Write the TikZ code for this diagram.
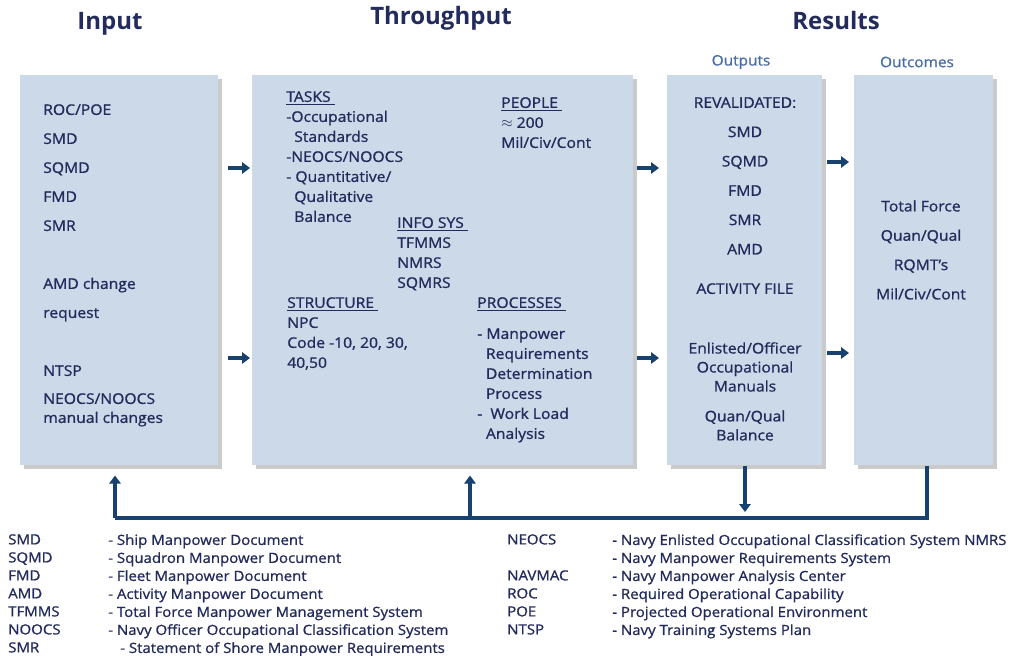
\documentclass[tikz,border=0pt]{standalone}
\usepackage{fontspec}
\setmainfont{Open Sans}[FakeStretch=1.07, FakeBold=1]
\newfontfamily\headfont{Open Sans}
\usetikzlibrary{arrows.meta,shadows}
\definecolor{navy}{HTML}{232B5C}
\definecolor{boxblue}{HTML}{CCD9E8}
\definecolor{flowblue}{HTML}{17416F}
\definecolor{subblue}{HTML}{4A6DA7}
\tikzset{
  panel/.style={fill=boxblue, draw=none, inner sep=0pt,
    drop shadow={shadow xshift=2.5pt, shadow yshift=-2.5pt, opacity=.35, fill=black!60}},
  txt/.style={text=navy, inner sep=0pt, align=left, font=\fontsize{11}{15}\selectfont},
  legend/.style={txt, font=\fontsize{10.5}{13.5}\selectfont},
  heading/.style={text=navy, inner sep=0pt, font=\headfont\fontsize{18}{22}\selectfont\bfseries},
  subhead/.style={text=subblue, inner sep=0pt, font=\fontsize{10.8}{12}\selectfont},
  flow/.style={draw=flowblue, line width=3pt, -{Triangle[length=6pt,width=8.5pt]}},
  bus/.style={draw=flowblue, line width=3pt, line join=miter}
}
\newcommand{\panel}[5]{\node[panel, anchor=north west, minimum width=#4*0.75pt, minimum height=#5*0.75pt] (#1) at (#2,#3) {};}
\newcommand{\push}[3]{\coordinate (#1) at (#2,#3); \draw[flow] (#1) -- ++(22,0);}

\begin{document}
\begin{tikzpicture}[x=0.75pt, y=-0.75pt]
    \useasboundingbox (0,0) rectangle (1013,656);
    % headings
    \node[heading, anchor=base] (hin) at (110,30) {Input};
    \node[heading, anchor=base] (hthru) at (441,25) {Throughput};
    \node[heading, anchor=base] (hres) at (836,30) {Results};
    \node[subhead] (hout) at (741,62) {Outputs};
    \node[subhead] (hoc) at (917,62) {Outcomes};
    % panels
    \panel{in}{20}{75}{198}{390}    \panel{tp}{252}{75}{381}{390}
    \panel{out}{667}{75}{155}{390}  \panel{oc}{854}{75}{139}{390}
    % input
    \node[txt, anchor=north west, font=\fontsize{11}{21.75}\selectfont] (inlist) at (43,104)
      {ROC/POE\\SMD\\SQMD\\FMD\\SMR\\[21.75pt]AMD change\\request\\[21.75pt]NTSP};
    \node[txt, anchor=north west, font=\fontsize{11}{14.25}\selectfont] (inman) at (43,393)
      {NEOCS/NOOCS\\manual changes};
    % throughput
    \node[txt, anchor=north west] (tasks) at (286,91)
      {\underline{TASKS\ }\\-Occupational\\\hspace{6pt}Standards\\-NEOCS/NOOCS\\- Quantitative/\\\hspace{6pt}Qualitative\\\hspace{6pt}Balance};
    \node[txt, anchor=north west] (people) at (501,97)
      {\underline{PEOPLE\ }\\$\approx$ 200\\Mil/Civ/Cont};
    \node[txt, anchor=north west] (info) at (397,217)
      {\underline{INFO SYS\ }\\TFMMS\\NMRS\\SQMRS};
    \node[txt, anchor=north west] (struct) at (287,297)
      {\underline{STRUCTURE\ }\\NPC\\Code -10, 20, 30,\\40,50};
    \node[txt, anchor=north west] (proc) at (477,297)
      {\underline{PROCESSES\ }\\[8.25pt]- Manpower\\\hspace{6.5pt}Requirements\\\hspace{6.5pt}Determination\\\hspace{6.5pt}Process\\-\ \ Work Load\\\hspace{6.5pt}Analysis};
    % outputs
    \node[txt, align=center, anchor=north, font=\fontsize{11}{22}\selectfont] (reval) at (745,97)
      {REVALIDATED:\\SMD\\SQMD\\FMD\\SMR\\AMD};
    \node[txt, align=center, anchor=north] (act) at (745,283) {ACTIVITY FILE};
    \node[txt, align=center, anchor=north, font=\fontsize{11}{14.25}\selectfont] (manuals) at (745,342)
      {Enlisted/Officer\\Occupational\\Manuals};
    \node[txt, align=center, anchor=north, font=\fontsize{11}{14.25}\selectfont] (bal) at (745,410)
      {Quan/Qual\\Balance};
    % outcomes
    \node[txt, align=center, anchor=north, font=\fontsize{11}{22}\selectfont] (force) at (921,200)
      {Total Force\\Quan/Qual\\RQMT's\\Mil/Civ/Cont};
    % flow arrows
    \push{a1}{228}{168}  \push{a2}{228}{358}
    \push{a3}{637}{168}  \push{a4}{637}{358}
    \push{a5}{827}{162}  \push{a6}{827}{353}
    % feedback bus
    \coordinate (bus1) at (115,518); \coordinate (bus2) at (470,518);
    \coordinate (bus3) at (745,512); \coordinate (bus4) at (927,518);
    \draw[bus] (oc.south -| bus4) -- (bus4) -- (bus1);
    \draw[flow] (bus1) -- ([yshift=-7.5pt]in.south -| bus1);
    \draw[flow] (bus2) -- ([yshift=-7.5pt]tp.south -| bus2);
    \draw[flow] (out.south -| bus3) -- (bus3);
    % legend
    \node[legend, anchor=north west] (abbl) at (8,534)
      {SMD\\SQMD\\FMD\\AMD\\TFMMS\\NOOCS\\SMR};
    \node[legend, anchor=north west] (defl) at (108,534)
      {- Ship Manpower Document\\- Squadron Manpower Document\\- Fleet Manpower Document\\- Activity Manpower Document\\- Total Force Manpower Management System\\- Navy Officer Occupational Classification System\\\hspace{9pt}- Statement of Shore Manpower Requirements};
    \node[legend, anchor=north west] (abbr) at (507,534)
      {NEOCS\\[13.5pt]NAVMAC\\ROC\\POE\\NTSP};
    \node[legend, anchor=north west] (defr) at (612,534)
      {- Navy Enlisted Occupational Classification System NMRS\\- Navy Manpower Requirements System\\- Navy Manpower Analysis Center\\- Required Operational Capability\\- Projected Operational Environment\\- Navy Training Systems Plan};
\end{tikzpicture}
\end{document}
